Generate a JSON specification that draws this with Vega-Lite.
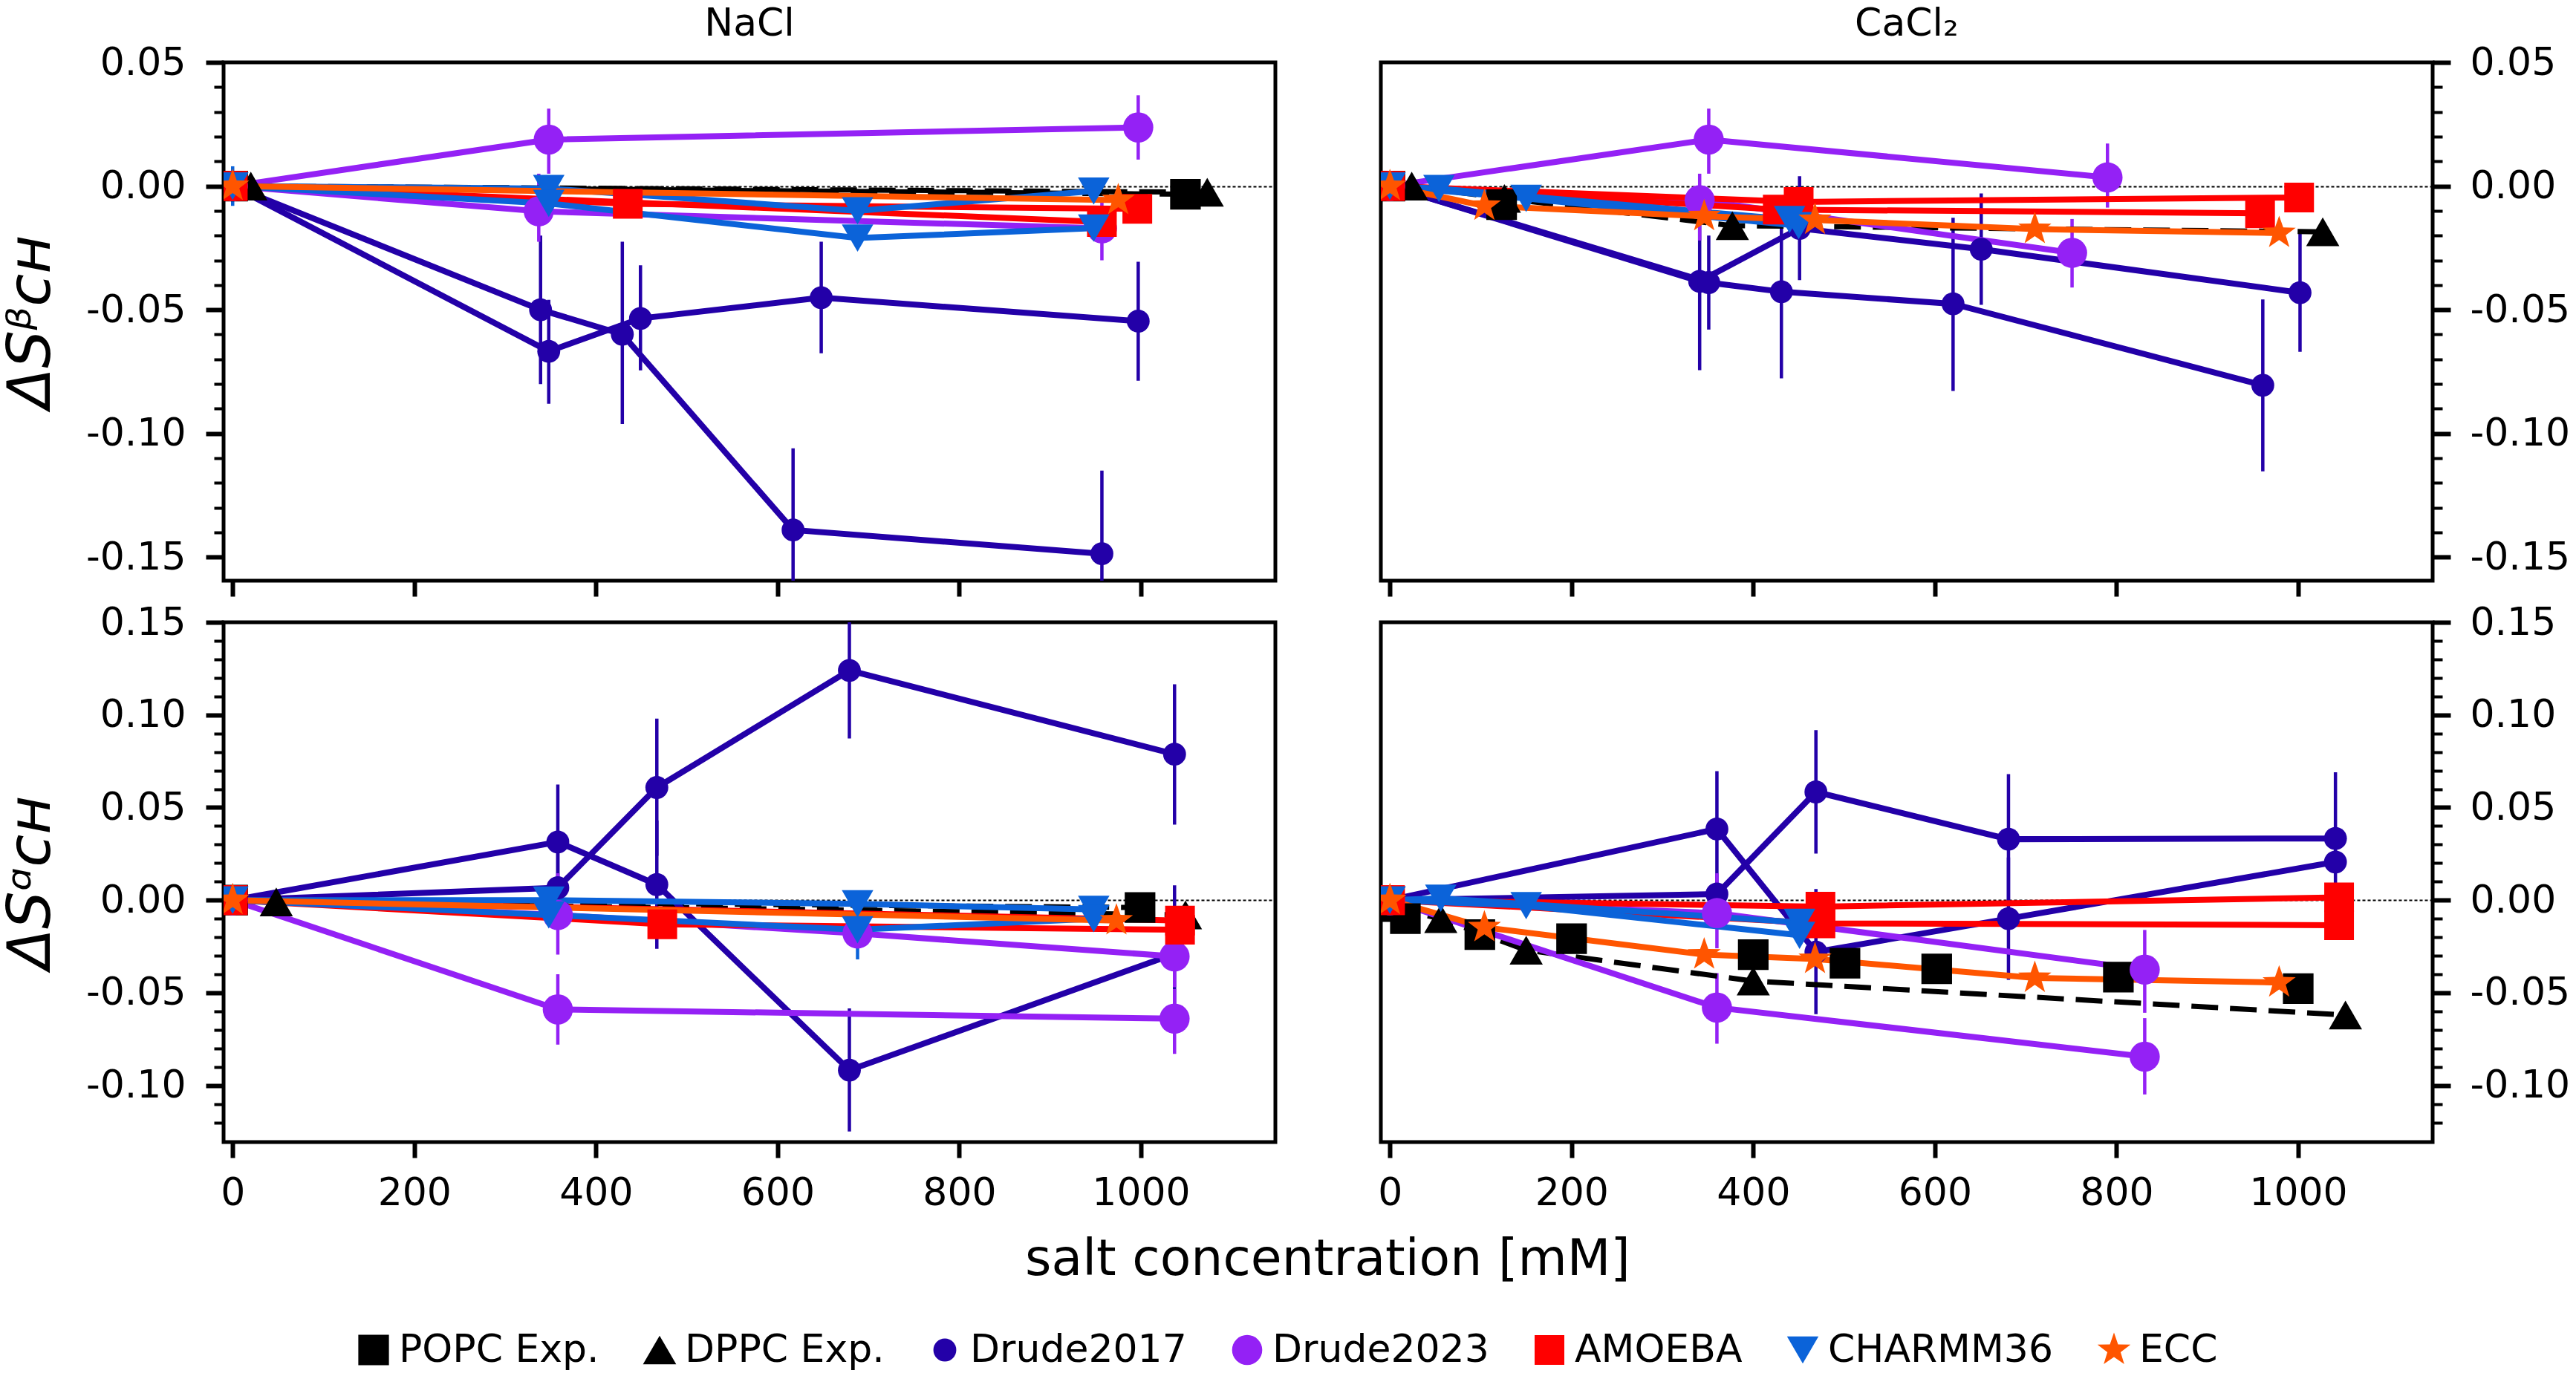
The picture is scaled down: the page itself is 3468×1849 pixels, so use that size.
{
  "$schema": "https://vega.github.io/schema/vega-lite/v6.json",
  "background": "white",
  "padding": {"left": -1, "top": 3, "right": 0, "bottom": 12},
  "bounds": "flush",
  "columns": 2,
  "spacing": {"row": 56, "column": 142},
  "resolve": {"scale": {"color": "shared", "shape": "shared", "size": "shared", "stroke": "shared"}, "legend": {"color": "shared", "shape": "shared", "size": "shared"}},
  "config": {
    "font": "DejaVu Sans",
    "view": {"stroke": "black", "strokeWidth": 5},
    "axis": {"domain": false, "labelFont": "DejaVu Sans", "labelFontSize": 52, "labelColor": "black", "tickColor": "black", "titleFont": "DejaVu Sans", "titleColor": "black", "titleFontWeight": "normal", "labelOverlap": false, "labelFlush": false, "grid": false},
    "title": {"font": "DejaVu Sans", "fontSize": 52, "fontWeight": "normal", "color": "black", "anchor": "middle", "baseline": "alphabetic", "offset": -1},
    "legend": {"layout": {"bottom": {"anchor": "middle"}}}
  },
  "datasets": {
    "d": [
      {"s":"NaCl","p":"b","m":"POPC Exp.","r":"e","x":0,"y":0},
      {"s":"NaCl","p":"b","m":"POPC Exp.","r":"e","x":1049,"y":-0.0033},
      {"s":"NaCl","p":"b","m":"DPPC Exp.","r":"e","x":20,"y":0},
      {"s":"NaCl","p":"b","m":"DPPC Exp.","r":"e","x":1073,"y":-0.0025},
      {"s":"NaCl","p":"b","m":"Drude2017","r":"a","x":0,"y":0},
      {"s":"NaCl","p":"b","m":"Drude2017","r":"a","x":339,"y":-0.050,"lo":-0.080,"hi":-0.020},
      {"s":"NaCl","p":"b","m":"Drude2017","r":"a","x":429,"y":-0.0599,"lo":-0.0962,"hi":-0.0225},
      {"s":"NaCl","p":"b","m":"Drude2017","r":"a","x":617,"y":-0.139,"lo":-0.172,"hi":-0.106},
      {"s":"NaCl","p":"b","m":"Drude2017","r":"a","x":957,"y":-0.1486,"lo":-0.182,"hi":-0.115},
      {"s":"NaCl","p":"b","m":"Drude2017","r":"b","x":0,"y":0},
      {"s":"NaCl","p":"b","m":"Drude2017","r":"b","x":348,"y":-0.0668,"lo":-0.088,"hi":-0.046},
      {"s":"NaCl","p":"b","m":"Drude2017","r":"b","x":449,"y":-0.0535,"lo":-0.0745,"hi":-0.032},
      {"s":"NaCl","p":"b","m":"Drude2017","r":"b","x":648,"y":-0.0451,"lo":-0.0676,"hi":-0.0225},
      {"s":"NaCl","p":"b","m":"Drude2017","r":"b","x":997,"y":-0.0546,"lo":-0.0787,"hi":-0.0306},
      {"s":"NaCl","p":"b","m":"Drude2023","r":"a","x":0,"y":0},
      {"s":"NaCl","p":"b","m":"Drude2023","r":"a","x":348,"y":0.0188,"lo":0.005,"hi":0.0313},
      {"s":"NaCl","p":"b","m":"Drude2023","r":"a","x":997,"y":0.0237,"lo":0.0107,"hi":0.0367},
      {"s":"NaCl","p":"b","m":"Drude2023","r":"b","x":0,"y":0},
      {"s":"NaCl","p":"b","m":"Drude2023","r":"b","x":337,"y":-0.0102,"lo":-0.0225,"hi":0.005},
      {"s":"NaCl","p":"b","m":"Drude2023","r":"b","x":957,"y":-0.0171,"lo":-0.030,"hi":-0.0045},
      {"s":"NaCl","p":"b","m":"AMOEBA","r":"a","x":0,"y":0},
      {"s":"NaCl","p":"b","m":"AMOEBA","r":"a","x":435,"y":-0.0072},
      {"s":"NaCl","p":"b","m":"AMOEBA","r":"a","x":996,"y":-0.0092},
      {"s":"NaCl","p":"b","m":"AMOEBA","r":"b","x":0,"y":0},
      {"s":"NaCl","p":"b","m":"AMOEBA","r":"b","x":957,"y":-0.0145},
      {"s":"NaCl","p":"b","m":"CHARMM36","r":"a","x":0,"y":0,"lo":-0.008,"hi":0.008},
      {"s":"NaCl","p":"b","m":"CHARMM36","r":"a","x":348,"y":-0.001},
      {"s":"NaCl","p":"b","m":"CHARMM36","r":"a","x":688,"y":-0.010},
      {"s":"NaCl","p":"b","m":"CHARMM36","r":"a","x":948,"y":-0.002},
      {"s":"NaCl","p":"b","m":"CHARMM36","r":"b","x":0,"y":0},
      {"s":"NaCl","p":"b","m":"CHARMM36","r":"b","x":348,"y":-0.007},
      {"s":"NaCl","p":"b","m":"CHARMM36","r":"b","x":688,"y":-0.021},
      {"s":"NaCl","p":"b","m":"CHARMM36","r":"b","x":948,"y":-0.017},
      {"s":"NaCl","p":"b","m":"ECC","r":"a","x":0,"y":0},
      {"s":"NaCl","p":"b","m":"ECC","r":"a","x":975,"y":-0.0057},

      {"s":"CaCl2","p":"b","m":"POPC Exp.","r":"e","x":0,"y":0},
      {"s":"CaCl2","p":"b","m":"POPC Exp.","r":"e","x":123,"y":-0.0075},
      {"s":"CaCl2","p":"b","m":"DPPC Exp.","r":"e","x":24,"y":0},
      {"s":"CaCl2","p":"b","m":"DPPC Exp.","r":"e","x":126,"y":-0.005},
      {"s":"CaCl2","p":"b","m":"DPPC Exp.","r":"e","x":377,"y":-0.016},
      {"s":"CaCl2","p":"b","m":"DPPC Exp.","r":"e","x":1027,"y":-0.0185},
      {"s":"CaCl2","p":"b","m":"Drude2017","r":"a","x":0,"y":0},
      {"s":"CaCl2","p":"b","m":"Drude2017","r":"a","x":341,"y":-0.0385,"lo":-0.0744,"hi":-0.003},
      {"s":"CaCl2","p":"b","m":"Drude2017","r":"a","x":451,"y":-0.0171,"lo":-0.038,"hi":0.004},
      {"s":"CaCl2","p":"b","m":"Drude2017","r":"a","x":651,"y":-0.0255,"lo":-0.048,"hi":-0.003},
      {"s":"CaCl2","p":"b","m":"Drude2017","r":"a","x":1002,"y":-0.0431,"lo":-0.067,"hi":-0.0193},
      {"s":"CaCl2","p":"b","m":"Drude2017","r":"b","x":0,"y":0},
      {"s":"CaCl2","p":"b","m":"Drude2017","r":"b","x":351,"y":-0.039,"lo":-0.058,"hi":-0.020},
      {"s":"CaCl2","p":"b","m":"Drude2017","r":"b","x":431,"y":-0.0427,"lo":-0.0777,"hi":-0.0077},
      {"s":"CaCl2","p":"b","m":"Drude2017","r":"b","x":620,"y":-0.0476,"lo":-0.0828,"hi":-0.0128},
      {"s":"CaCl2","p":"b","m":"Drude2017","r":"b","x":961,"y":-0.0805,"lo":-0.1153,"hi":-0.0458},
      {"s":"CaCl2","p":"b","m":"Drude2023","r":"a","x":0,"y":0},
      {"s":"CaCl2","p":"b","m":"Drude2023","r":"a","x":351,"y":0.0188,"lo":0.005,"hi":0.0313},
      {"s":"CaCl2","p":"b","m":"Drude2023","r":"a","x":790,"y":0.0035,"lo":-0.0087,"hi":0.0172},
      {"s":"CaCl2","p":"b","m":"Drude2023","r":"b","x":0,"y":0},
      {"s":"CaCl2","p":"b","m":"Drude2023","r":"b","x":341,"y":-0.0057,"lo":-0.022,"hi":0.005},
      {"s":"CaCl2","p":"b","m":"Drude2023","r":"b","x":751,"y":-0.027,"lo":-0.041,"hi":-0.0133},
      {"s":"CaCl2","p":"b","m":"AMOEBA","r":"a","x":0,"y":0},
      {"s":"CaCl2","p":"b","m":"AMOEBA","r":"a","x":450,"y":-0.0064},
      {"s":"CaCl2","p":"b","m":"AMOEBA","r":"a","x":1001,"y":-0.0046},
      {"s":"CaCl2","p":"b","m":"AMOEBA","r":"b","x":0,"y":0},
      {"s":"CaCl2","p":"b","m":"AMOEBA","r":"b","x":427,"y":-0.0095},
      {"s":"CaCl2","p":"b","m":"AMOEBA","r":"b","x":958,"y":-0.011},
      {"s":"CaCl2","p":"b","m":"CHARMM36","r":"a","x":0,"y":0},
      {"s":"CaCl2","p":"b","m":"CHARMM36","r":"a","x":54,"y":-0.001},
      {"s":"CaCl2","p":"b","m":"CHARMM36","r":"a","x":440,"y":-0.0135},
      {"s":"CaCl2","p":"b","m":"CHARMM36","r":"b","x":0,"y":0},
      {"s":"CaCl2","p":"b","m":"CHARMM36","r":"b","x":150,"y":-0.005},
      {"s":"CaCl2","p":"b","m":"CHARMM36","r":"b","x":450,"y":-0.016},
      {"s":"CaCl2","p":"b","m":"ECC","r":"a","x":0,"y":0},
      {"s":"CaCl2","p":"b","m":"ECC","r":"a","x":104,"y":-0.008},
      {"s":"CaCl2","p":"b","m":"ECC","r":"a","x":346,"y":-0.0122},
      {"s":"CaCl2","p":"b","m":"ECC","r":"a","x":468,"y":-0.0137},
      {"s":"CaCl2","p":"b","m":"ECC","r":"a","x":710,"y":-0.0174},
      {"s":"CaCl2","p":"b","m":"ECC","r":"a","x":979,"y":-0.019},

      {"s":"NaCl","p":"a","m":"POPC Exp.","r":"e","x":0,"y":0},
      {"s":"NaCl","p":"a","m":"POPC Exp.","r":"e","x":999,"y":-0.004},
      {"s":"NaCl","p":"a","m":"DPPC Exp.","r":"e","x":48,"y":-0.001},
      {"s":"NaCl","p":"a","m":"DPPC Exp.","r":"e","x":1049,"y":-0.008},
      {"s":"NaCl","p":"a","m":"Drude2017","r":"a","x":0,"y":0},
      {"s":"NaCl","p":"a","m":"Drude2017","r":"a","x":358,"y":0.0314,"lo":0.0006,"hi":0.0624},
      {"s":"NaCl","p":"a","m":"Drude2017","r":"a","x":467,"y":0.0084,"lo":-0.0263,"hi":0.043},
      {"s":"NaCl","p":"a","m":"Drude2017","r":"a","x":679,"y":-0.0918,"lo":-0.1249,"hi":-0.0584},
      {"s":"NaCl","p":"a","m":"Drude2017","r":"a","x":1037,"y":-0.029,"lo":-0.066,"hi":0.008},
      {"s":"NaCl","p":"a","m":"Drude2017","r":"b","x":0,"y":0},
      {"s":"NaCl","p":"a","m":"Drude2017","r":"b","x":358,"y":0.0067,"lo":-0.013,"hi":0.027},
      {"s":"NaCl","p":"a","m":"Drude2017","r":"b","x":467,"y":0.0608,"lo":0.0239,"hi":0.098},
      {"s":"NaCl","p":"a","m":"Drude2017","r":"b","x":679,"y":0.124,"lo":0.0873,"hi":0.16},
      {"s":"NaCl","p":"a","m":"Drude2017","r":"b","x":1037,"y":0.0788,"lo":0.0408,"hi":0.1165},
      {"s":"NaCl","p":"a","m":"Drude2023","r":"a","x":0,"y":0},
      {"s":"NaCl","p":"a","m":"Drude2023","r":"a","x":358,"y":-0.059,"lo":-0.078,"hi":-0.040},
      {"s":"NaCl","p":"a","m":"Drude2023","r":"a","x":1037,"y":-0.064,"lo":-0.083,"hi":-0.048},
      {"s":"NaCl","p":"a","m":"Drude2023","r":"b","x":0,"y":0},
      {"s":"NaCl","p":"a","m":"Drude2023","r":"b","x":358,"y":-0.008,"lo":-0.0294,"hi":0.0145},
      {"s":"NaCl","p":"a","m":"Drude2023","r":"b","x":688,"y":-0.018},
      {"s":"NaCl","p":"a","m":"Drude2023","r":"b","x":1037,"y":-0.0304,"lo":-0.047,"hi":-0.014},
      {"s":"NaCl","p":"a","m":"AMOEBA","r":"a","x":0,"y":0},
      {"s":"NaCl","p":"a","m":"AMOEBA","r":"a","x":473,"y":-0.013},
      {"s":"NaCl","p":"a","m":"AMOEBA","r":"a","x":1043,"y":-0.016},
      {"s":"NaCl","p":"a","m":"AMOEBA","r":"b","x":0,"y":0},
      {"s":"NaCl","p":"a","m":"AMOEBA","r":"b","x":1043,"y":-0.011},
      {"s":"NaCl","p":"a","m":"CHARMM36","r":"a","x":0,"y":0,"lo":-0.008,"hi":0.008},
      {"s":"NaCl","p":"a","m":"CHARMM36","r":"a","x":348,"y":0.0},
      {"s":"NaCl","p":"a","m":"CHARMM36","r":"a","x":688,"y":-0.002},
      {"s":"NaCl","p":"a","m":"CHARMM36","r":"a","x":948,"y":-0.005},
      {"s":"NaCl","p":"a","m":"CHARMM36","r":"b","x":0,"y":0},
      {"s":"NaCl","p":"a","m":"CHARMM36","r":"b","x":348,"y":-0.008},
      {"s":"NaCl","p":"a","m":"CHARMM36","r":"b","x":688,"y":-0.016,"lo":-0.032,"hi":0.0},
      {"s":"NaCl","p":"a","m":"CHARMM36","r":"b","x":948,"y":-0.010},
      {"s":"NaCl","p":"a","m":"ECC","r":"a","x":0,"y":0},
      {"s":"NaCl","p":"a","m":"ECC","r":"a","x":973,"y":-0.011},

      {"s":"CaCl2","p":"a","m":"POPC Exp.","r":"e","x":17,"y":-0.010},
      {"s":"CaCl2","p":"a","m":"POPC Exp.","r":"e","x":99,"y":-0.0186},
      {"s":"CaCl2","p":"a","m":"POPC Exp.","r":"e","x":200,"y":-0.0208},
      {"s":"CaCl2","p":"a","m":"POPC Exp.","r":"e","x":400,"y":-0.0294},
      {"s":"CaCl2","p":"a","m":"POPC Exp.","r":"e","x":501,"y":-0.034},
      {"s":"CaCl2","p":"a","m":"POPC Exp.","r":"e","x":602,"y":-0.0371},
      {"s":"CaCl2","p":"a","m":"POPC Exp.","r":"e","x":802,"y":-0.0416},
      {"s":"CaCl2","p":"a","m":"POPC Exp.","r":"e","x":1000,"y":-0.0478},
      {"s":"CaCl2","p":"a","m":"DPPC Exp.","r":"e","x":0,"y":-0.004},
      {"s":"CaCl2","p":"a","m":"DPPC Exp.","r":"e","x":56,"y":-0.010},
      {"s":"CaCl2","p":"a","m":"DPPC Exp.","r":"e","x":150,"y":-0.027},
      {"s":"CaCl2","p":"a","m":"DPPC Exp.","r":"e","x":400,"y":-0.0437},
      {"s":"CaCl2","p":"a","m":"DPPC Exp.","r":"e","x":1052,"y":-0.062},
      {"s":"CaCl2","p":"a","m":"Drude2017","r":"a","x":0,"y":0},
      {"s":"CaCl2","p":"a","m":"Drude2017","r":"a","x":360,"y":0.0384,"lo":0.007,"hi":0.0696},
      {"s":"CaCl2","p":"a","m":"Drude2017","r":"a","x":469,"y":-0.028,"lo":-0.0616,"hi":0.006},
      {"s":"CaCl2","p":"a","m":"Drude2017","r":"a","x":681,"y":-0.010,"lo":-0.043,"hi":0.023},
      {"s":"CaCl2","p":"a","m":"Drude2017","r":"a","x":1041,"y":0.0206},
      {"s":"CaCl2","p":"a","m":"Drude2017","r":"b","x":0,"y":0},
      {"s":"CaCl2","p":"a","m":"Drude2017","r":"b","x":360,"y":0.0033},
      {"s":"CaCl2","p":"a","m":"Drude2017","r":"b","x":469,"y":0.0584,"lo":0.0251,"hi":0.0918},
      {"s":"CaCl2","p":"a","m":"Drude2017","r":"b","x":681,"y":0.0329,"lo":-0.002,"hi":0.068},
      {"s":"CaCl2","p":"a","m":"Drude2017","r":"b","x":1041,"y":0.0333,"lo":-0.0025,"hi":0.069},
      {"s":"CaCl2","p":"a","m":"Drude2023","r":"a","x":0,"y":0},
      {"s":"CaCl2","p":"a","m":"Drude2023","r":"a","x":360,"y":-0.058,"lo":-0.0775,"hi":-0.0394},
      {"s":"CaCl2","p":"a","m":"Drude2023","r":"a","x":831,"y":-0.0845,"lo":-0.1049,"hi":-0.0637},
      {"s":"CaCl2","p":"a","m":"Drude2023","r":"b","x":0,"y":0},
      {"s":"CaCl2","p":"a","m":"Drude2023","r":"b","x":360,"y":-0.007,"lo":-0.026,"hi":0.0145},
      {"s":"CaCl2","p":"a","m":"Drude2023","r":"b","x":831,"y":-0.0375,"lo":-0.0608,"hi":-0.0161},
      {"s":"CaCl2","p":"a","m":"AMOEBA","r":"a","x":0,"y":0},
      {"s":"CaCl2","p":"a","m":"AMOEBA","r":"a","x":474,"y":-0.0035},
      {"s":"CaCl2","p":"a","m":"AMOEBA","r":"a","x":1045,"y":0.0015},
      {"s":"CaCl2","p":"a","m":"AMOEBA","r":"b","x":0,"y":0},
      {"s":"CaCl2","p":"a","m":"AMOEBA","r":"b","x":474,"y":-0.0125},
      {"s":"CaCl2","p":"a","m":"AMOEBA","r":"b","x":1045,"y":-0.0135},
      {"s":"CaCl2","p":"a","m":"CHARMM36","r":"a","x":0,"y":0},
      {"s":"CaCl2","p":"a","m":"CHARMM36","r":"a","x":56,"y":0.001},
      {"s":"CaCl2","p":"a","m":"CHARMM36","r":"a","x":451,"y":-0.012},
      {"s":"CaCl2","p":"a","m":"CHARMM36","r":"b","x":0,"y":0},
      {"s":"CaCl2","p":"a","m":"CHARMM36","r":"b","x":150,"y":-0.003},
      {"s":"CaCl2","p":"a","m":"CHARMM36","r":"b","x":451,"y":-0.019},
      {"s":"CaCl2","p":"a","m":"ECC","r":"a","x":0,"y":0},
      {"s":"CaCl2","p":"a","m":"ECC","r":"a","x":104,"y":-0.0147},
      {"s":"CaCl2","p":"a","m":"ECC","r":"a","x":346,"y":-0.0294},
      {"s":"CaCl2","p":"a","m":"ECC","r":"a","x":468,"y":-0.0318},
      {"s":"CaCl2","p":"a","m":"ECC","r":"a","x":710,"y":-0.042},
      {"s":"CaCl2","p":"a","m":"ECC","r":"a","x":979,"y":-0.0445}
    ]
  },
  "concat": [
    {
      "width": 1416, "height": 698,
      "title": {"text": "NaCl"},
      "data": {"name": "d"},
      "transform": [{"filter": "datum.s == 'NaCl' && datum.p == 'b'"}],
      "encoding": {
        "x": {"field": "x", "type": "quantitative", "scale": {"domain": [-10, 1148], "nice": false, "zero": false}, "axis": {"values": [0, 200, 400, 600, 800, 1000], "labels": false, "tickSize": 21, "tickWidth": 6, "title": null}},
        "y": {"field": "y", "type": "quantitative", "scale": {"domain": [-0.1595, 0.05], "nice": false, "zero": false},
          "axis": {"title": "ΔSᵝᴄʜ", "titleFontSize": 80, "titleFontStyle": "italic", "titlePadding": 32,
            "values": [-0.15,-0.14,-0.13,-0.12,-0.11,-0.1,-0.09,-0.08,-0.07,-0.06,-0.05,-0.04,-0.03,-0.02,-0.01,0,0.01,0.02,0.03,0.04,0.05],
            "labelExpr": "abs(round(datum.value*100)%5)==0 ? replace(format(datum.value,'.2f'),'\u2212','-') : ''",
            "tickSize": {"condition": {"test": "abs(round(datum.value*100)%5)==0", "value": 24}, "value": 13},
            "tickWidth": {"condition": {"test": "abs(round(datum.value*100)%5)==0", "value": 6}, "value": 4},
            "labelPadding": 27, "grid": true, "gridColor": "black", "gridDash": [4, 3], "gridWidth": 2,
            "gridOpacity": {"condition": {"test": "abs(datum.value) < 0.000001", "value": 1}, "value": 0}}}
      },
      "layer": [
        {"transform": [{"filter": "isValid(datum.lo)"}], "mark": {"type": "rule", "strokeWidth": 4.5, "clip": true},
          "encoding": {"y": {"field": "lo", "type": "quantitative"}, "y2": {"field": "hi"},
            "stroke": {"field": "m", "type": "nominal", "legend": null, "scale": {"domain": ["Drude2017","Drude2023","AMOEBA","CHARMM36","ECC","POPC Exp.","DPPC Exp."], "range": ["#2300a8","#9421f5","#ff0000","#0b63d9","#ff5500","#000000","#000000"]}}}},
        {"transform": [{"filter": "datum.m == 'POPC Exp.' || datum.m == 'DPPC Exp.'"}], "mark": {"type": "line", "strokeWidth": 7, "strokeDash": [36, 16], "color": "black", "clip": true},
          "encoding": {"detail": {"field": "m"}}},
        {"transform": [{"filter": "datum.m != 'POPC Exp.' && datum.m != 'DPPC Exp.'"}], "mark": {"type": "line", "strokeWidth": 8, "clip": true},
          "encoding": {"detail": {"field": "r"}, "stroke": {"field": "m", "type": "nominal", "legend": null, "scale": {"domain": ["Drude2017","Drude2023","AMOEBA","CHARMM36","ECC","POPC Exp.","DPPC Exp."], "range": ["#2300a8","#9421f5","#ff0000","#0b63d9","#ff5500","#000000","#000000"]}}}},
        {"mark": {"type": "point", "filled": true, "opacity": 1, "clip": true},
          "encoding": {
            "color": {"field": "m", "type": "nominal", "scale": {"domain": ["POPC Exp.","DPPC Exp.","Drude2017","Drude2023","AMOEBA","CHARMM36","ECC"], "range": ["#000000","#000000","#2300a8","#9421f5","#ff0000","#0b63d9","#ff5500"]}, "legend": {"title": null, "orient": "bottom", "offset": 59, "direction": "horizontal", "columns": 7, "labelFontSize": 52, "labelFont": "DejaVu Sans", "labelColor": "black", "labelLimit": 1000, "columnPadding": 55, "labelOffset": 8, "symbolStrokeWidth": 0}},
            "shape": {"field": "m", "type": "nominal", "scale": {"domain": ["POPC Exp.","DPPC Exp.","Drude2017","Drude2023","AMOEBA","CHARMM36","ECC"], "range": ["square","triangle-up","circle","circle","square","triangle-down","M0,-1L0.235,-0.324L0.951,-0.309L0.38,0.124L0.588,0.809L0,0.4L-0.588,0.809L-0.38,0.124L-0.951,-0.309L-0.235,-0.324Z"]}, "legend": {"title": null, "orient": "bottom", "offset": 59, "direction": "horizontal", "columns": 7, "labelFontSize": 52, "labelFont": "DejaVu Sans", "labelColor": "black", "labelLimit": 1000, "columnPadding": 55, "labelOffset": 8, "symbolStrokeWidth": 0}},
            "size": {"field": "m", "type": "nominal", "scale": {"type": "ordinal", "domain": ["POPC Exp.","DPPC Exp.","Drude2017","Drude2023","AMOEBA","CHARMM36","ECC"], "range": [1700, 2000, 950, 1650, 1600, 1800, 2200]}, "legend": {"title": null, "orient": "bottom", "offset": 59, "direction": "horizontal", "columns": 7, "labelFontSize": 52, "labelFont": "DejaVu Sans", "labelColor": "black", "labelLimit": 1000, "columnPadding": 55, "labelOffset": 8, "symbolStrokeWidth": 0}}
          }}
      ]
    },
    {
      "width": 1416, "height": 698,
      "title": {"text": "CaCl₂"},
      "data": {"name": "d"},
      "transform": [{"filter": "datum.s == 'CaCl2' && datum.p == 'b'"}],
      "encoding": {
        "x": {"field": "x", "type": "quantitative", "scale": {"domain": [-10, 1148], "nice": false, "zero": false}, "axis": {"values": [0, 200, 400, 600, 800, 1000], "labels": false, "tickSize": 21, "tickWidth": 6, "title": null}},
        "y": {"field": "y", "type": "quantitative", "scale": {"domain": [-0.1595, 0.05], "nice": false, "zero": false},
          "axis": {"orient": "right", "title": null,
            "values": [-0.15,-0.14,-0.13,-0.12,-0.11,-0.1,-0.09,-0.08,-0.07,-0.06,-0.05,-0.04,-0.03,-0.02,-0.01,0,0.01,0.02,0.03,0.04,0.05],
            "labelExpr": "abs(round(datum.value*100)%5)==0 ? replace(format(datum.value,'.2f'),'\u2212','-') : ''",
            "tickSize": {"condition": {"test": "abs(round(datum.value*100)%5)==0", "value": 24}, "value": 13},
            "tickWidth": {"condition": {"test": "abs(round(datum.value*100)%5)==0", "value": 6}, "value": 4},
            "labelPadding": 26, "grid": true, "gridColor": "black", "gridDash": [4, 3], "gridWidth": 2,
            "gridOpacity": {"condition": {"test": "abs(datum.value) < 0.000001", "value": 1}, "value": 0}}}
      },
      "layer": [
        {"transform": [{"filter": "isValid(datum.lo)"}], "mark": {"type": "rule", "strokeWidth": 4.5, "clip": true},
          "encoding": {"y": {"field": "lo", "type": "quantitative"}, "y2": {"field": "hi"},
            "stroke": {"field": "m", "type": "nominal", "legend": null, "scale": {"domain": ["Drude2017","Drude2023","AMOEBA","CHARMM36","ECC","POPC Exp.","DPPC Exp."], "range": ["#2300a8","#9421f5","#ff0000","#0b63d9","#ff5500","#000000","#000000"]}}}},
        {"transform": [{"filter": "datum.m == 'DPPC Exp.'"}], "mark": {"type": "line", "strokeWidth": 7, "strokeDash": [36, 16], "color": "black", "clip": true},
          "encoding": {"detail": {"field": "m"}}},
        {"transform": [{"filter": "datum.m != 'POPC Exp.' && datum.m != 'DPPC Exp.'"}], "mark": {"type": "line", "strokeWidth": 8, "clip": true},
          "encoding": {"detail": {"field": "r"}, "stroke": {"field": "m", "type": "nominal", "legend": null, "scale": {"domain": ["Drude2017","Drude2023","AMOEBA","CHARMM36","ECC","POPC Exp.","DPPC Exp."], "range": ["#2300a8","#9421f5","#ff0000","#0b63d9","#ff5500","#000000","#000000"]}}}},
        {"mark": {"type": "point", "filled": true, "opacity": 1, "clip": true},
          "encoding": {
            "color": {"field": "m", "type": "nominal", "scale": {"domain": ["POPC Exp.","DPPC Exp.","Drude2017","Drude2023","AMOEBA","CHARMM36","ECC"], "range": ["#000000","#000000","#2300a8","#9421f5","#ff0000","#0b63d9","#ff5500"]}, "legend": {"title": null, "orient": "bottom", "offset": 59, "direction": "horizontal", "columns": 7, "labelFontSize": 52, "labelFont": "DejaVu Sans", "labelColor": "black", "labelLimit": 1000, "columnPadding": 55, "labelOffset": 8, "symbolStrokeWidth": 0}},
            "shape": {"field": "m", "type": "nominal", "scale": {"domain": ["POPC Exp.","DPPC Exp.","Drude2017","Drude2023","AMOEBA","CHARMM36","ECC"], "range": ["square","triangle-up","circle","circle","square","triangle-down","M0,-1L0.235,-0.324L0.951,-0.309L0.38,0.124L0.588,0.809L0,0.4L-0.588,0.809L-0.38,0.124L-0.951,-0.309L-0.235,-0.324Z"]}, "legend": {"title": null, "orient": "bottom", "offset": 59, "direction": "horizontal", "columns": 7, "labelFontSize": 52, "labelFont": "DejaVu Sans", "labelColor": "black", "labelLimit": 1000, "columnPadding": 55, "labelOffset": 8, "symbolStrokeWidth": 0}},
            "size": {"field": "m", "type": "nominal", "scale": {"type": "ordinal", "domain": ["POPC Exp.","DPPC Exp.","Drude2017","Drude2023","AMOEBA","CHARMM36","ECC"], "range": [1700, 2000, 950, 1650, 1600, 1800, 2200]}, "legend": {"title": null, "orient": "bottom", "offset": 59, "direction": "horizontal", "columns": 7, "labelFontSize": 52, "labelFont": "DejaVu Sans", "labelColor": "black", "labelLimit": 1000, "columnPadding": 55, "labelOffset": 8, "symbolStrokeWidth": 0}}
          }}
      ]
    },
    {
      "width": 1416, "height": 700,
      "data": {"name": "d"},
      "transform": [{"filter": "datum.s == 'NaCl' && datum.p == 'a'"}],
      "encoding": {
        "x": {"field": "x", "type": "quantitative", "scale": {"domain": [-10, 1148], "nice": false, "zero": false},
          "axis": {"values": [0, 200, 400, 600, 800, 1000], "format": "d", "tickSize": 21, "tickWidth": 6, "labelPadding": 22, "title": "salt concentration [mM]", "titleFontSize": 68, "titlePadding": 30, "titleX": 1486, "titleAlign": "center"}},
        "y": {"field": "y", "type": "quantitative", "scale": {"domain": [-0.1306, 0.15], "nice": false, "zero": false},
          "axis": {"title": "ΔSᵅᴄʜ", "titleFontSize": 80, "titleFontStyle": "italic", "titlePadding": 32,
            "values": [-0.12,-0.11,-0.1,-0.09,-0.08,-0.07,-0.06,-0.05,-0.04,-0.03,-0.02,-0.01,0,0.01,0.02,0.03,0.04,0.05,0.06,0.07,0.08,0.09,0.1,0.11,0.12,0.13,0.14,0.15],
            "labelExpr": "abs(round(datum.value*100)%5)==0 ? replace(format(datum.value,'.2f'),'\u2212','-') : ''",
            "tickSize": {"condition": {"test": "abs(round(datum.value*100)%5)==0", "value": 24}, "value": 13},
            "tickWidth": {"condition": {"test": "abs(round(datum.value*100)%5)==0", "value": 6}, "value": 4},
            "labelPadding": 27, "grid": true, "gridColor": "black", "gridDash": [4, 3], "gridWidth": 2,
            "gridOpacity": {"condition": {"test": "abs(datum.value) < 0.000001", "value": 1}, "value": 0}}}
      },
      "layer": [
        {"transform": [{"filter": "isValid(datum.lo)"}], "mark": {"type": "rule", "strokeWidth": 4.5, "clip": true},
          "encoding": {"y": {"field": "lo", "type": "quantitative"}, "y2": {"field": "hi"},
            "stroke": {"field": "m", "type": "nominal", "legend": null, "scale": {"domain": ["Drude2017","Drude2023","AMOEBA","CHARMM36","ECC","POPC Exp.","DPPC Exp."], "range": ["#2300a8","#9421f5","#ff0000","#0b63d9","#ff5500","#000000","#000000"]}}}},
        {"transform": [{"filter": "datum.m == 'POPC Exp.' || datum.m == 'DPPC Exp.'"}], "mark": {"type": "line", "strokeWidth": 7, "strokeDash": [36, 16], "color": "black", "clip": true},
          "encoding": {"detail": {"field": "m"}}},
        {"transform": [{"filter": "datum.m != 'POPC Exp.' && datum.m != 'DPPC Exp.'"}], "mark": {"type": "line", "strokeWidth": 8, "clip": true},
          "encoding": {"detail": {"field": "r"}, "stroke": {"field": "m", "type": "nominal", "legend": null, "scale": {"domain": ["Drude2017","Drude2023","AMOEBA","CHARMM36","ECC","POPC Exp.","DPPC Exp."], "range": ["#2300a8","#9421f5","#ff0000","#0b63d9","#ff5500","#000000","#000000"]}}}},
        {"mark": {"type": "point", "filled": true, "opacity": 1, "clip": true},
          "encoding": {
            "color": {"field": "m", "type": "nominal", "scale": {"domain": ["POPC Exp.","DPPC Exp.","Drude2017","Drude2023","AMOEBA","CHARMM36","ECC"], "range": ["#000000","#000000","#2300a8","#9421f5","#ff0000","#0b63d9","#ff5500"]}, "legend": {"title": null, "orient": "bottom", "offset": 59, "direction": "horizontal", "columns": 7, "labelFontSize": 52, "labelFont": "DejaVu Sans", "labelColor": "black", "labelLimit": 1000, "columnPadding": 55, "labelOffset": 8, "symbolStrokeWidth": 0}},
            "shape": {"field": "m", "type": "nominal", "scale": {"domain": ["POPC Exp.","DPPC Exp.","Drude2017","Drude2023","AMOEBA","CHARMM36","ECC"], "range": ["square","triangle-up","circle","circle","square","triangle-down","M0,-1L0.235,-0.324L0.951,-0.309L0.38,0.124L0.588,0.809L0,0.4L-0.588,0.809L-0.38,0.124L-0.951,-0.309L-0.235,-0.324Z"]}, "legend": {"title": null, "orient": "bottom", "offset": 59, "direction": "horizontal", "columns": 7, "labelFontSize": 52, "labelFont": "DejaVu Sans", "labelColor": "black", "labelLimit": 1000, "columnPadding": 55, "labelOffset": 8, "symbolStrokeWidth": 0}},
            "size": {"field": "m", "type": "nominal", "scale": {"type": "ordinal", "domain": ["POPC Exp.","DPPC Exp.","Drude2017","Drude2023","AMOEBA","CHARMM36","ECC"], "range": [1700, 2000, 950, 1650, 1600, 1800, 2200]}, "legend": {"title": null, "orient": "bottom", "offset": 59, "direction": "horizontal", "columns": 7, "labelFontSize": 52, "labelFont": "DejaVu Sans", "labelColor": "black", "labelLimit": 1000, "columnPadding": 55, "labelOffset": 8, "symbolStrokeWidth": 0}}
          }}
      ]
    },
    {
      "width": 1416, "height": 700,
      "data": {"name": "d"},
      "transform": [{"filter": "datum.s == 'CaCl2' && datum.p == 'a'"}],
      "encoding": {
        "x": {"field": "x", "type": "quantitative", "scale": {"domain": [-10, 1148], "nice": false, "zero": false},
          "axis": {"values": [0, 200, 400, 600, 800, 1000], "format": "d", "tickSize": 21, "tickWidth": 6, "labelPadding": 22, "title": null}},
        "y": {"field": "y", "type": "quantitative", "scale": {"domain": [-0.1306, 0.15], "nice": false, "zero": false},
          "axis": {"orient": "right", "title": null,
            "values": [-0.12,-0.11,-0.1,-0.09,-0.08,-0.07,-0.06,-0.05,-0.04,-0.03,-0.02,-0.01,0,0.01,0.02,0.03,0.04,0.05,0.06,0.07,0.08,0.09,0.1,0.11,0.12,0.13,0.14,0.15],
            "labelExpr": "abs(round(datum.value*100)%5)==0 ? replace(format(datum.value,'.2f'),'\u2212','-') : ''",
            "tickSize": {"condition": {"test": "abs(round(datum.value*100)%5)==0", "value": 24}, "value": 13},
            "tickWidth": {"condition": {"test": "abs(round(datum.value*100)%5)==0", "value": 6}, "value": 4},
            "labelPadding": 26, "grid": true, "gridColor": "black", "gridDash": [4, 3], "gridWidth": 2,
            "gridOpacity": {"condition": {"test": "abs(datum.value) < 0.000001", "value": 1}, "value": 0}}}
      },
      "layer": [
        {"transform": [{"filter": "isValid(datum.lo)"}], "mark": {"type": "rule", "strokeWidth": 4.5, "clip": true},
          "encoding": {"y": {"field": "lo", "type": "quantitative"}, "y2": {"field": "hi"},
            "stroke": {"field": "m", "type": "nominal", "legend": null, "scale": {"domain": ["Drude2017","Drude2023","AMOEBA","CHARMM36","ECC","POPC Exp.","DPPC Exp."], "range": ["#2300a8","#9421f5","#ff0000","#0b63d9","#ff5500","#000000","#000000"]}}}},
        {"transform": [{"filter": "datum.m == 'DPPC Exp.'"}], "mark": {"type": "line", "strokeWidth": 7, "strokeDash": [36, 16], "color": "black", "clip": true},
          "encoding": {"detail": {"field": "m"}}},
        {"transform": [{"filter": "datum.m != 'POPC Exp.' && datum.m != 'DPPC Exp.'"}], "mark": {"type": "line", "strokeWidth": 8, "clip": true},
          "encoding": {"detail": {"field": "r"}, "stroke": {"field": "m", "type": "nominal", "legend": null, "scale": {"domain": ["Drude2017","Drude2023","AMOEBA","CHARMM36","ECC","POPC Exp.","DPPC Exp."], "range": ["#2300a8","#9421f5","#ff0000","#0b63d9","#ff5500","#000000","#000000"]}}}},
        {"mark": {"type": "point", "filled": true, "opacity": 1, "clip": true},
          "encoding": {
            "color": {"field": "m", "type": "nominal", "scale": {"domain": ["POPC Exp.","DPPC Exp.","Drude2017","Drude2023","AMOEBA","CHARMM36","ECC"], "range": ["#000000","#000000","#2300a8","#9421f5","#ff0000","#0b63d9","#ff5500"]}, "legend": {"title": null, "orient": "bottom", "offset": 59, "direction": "horizontal", "columns": 7, "labelFontSize": 52, "labelFont": "DejaVu Sans", "labelColor": "black", "labelLimit": 1000, "columnPadding": 55, "labelOffset": 8, "symbolStrokeWidth": 0}},
            "shape": {"field": "m", "type": "nominal", "scale": {"domain": ["POPC Exp.","DPPC Exp.","Drude2017","Drude2023","AMOEBA","CHARMM36","ECC"], "range": ["square","triangle-up","circle","circle","square","triangle-down","M0,-1L0.235,-0.324L0.951,-0.309L0.38,0.124L0.588,0.809L0,0.4L-0.588,0.809L-0.38,0.124L-0.951,-0.309L-0.235,-0.324Z"]}, "legend": {"title": null, "orient": "bottom", "offset": 59, "direction": "horizontal", "columns": 7, "labelFontSize": 52, "labelFont": "DejaVu Sans", "labelColor": "black", "labelLimit": 1000, "columnPadding": 55, "labelOffset": 8, "symbolStrokeWidth": 0}},
            "size": {"field": "m", "type": "nominal", "scale": {"type": "ordinal", "domain": ["POPC Exp.","DPPC Exp.","Drude2017","Drude2023","AMOEBA","CHARMM36","ECC"], "range": [1700, 2000, 950, 1650, 1600, 1800, 2200]}, "legend": {"title": null, "orient": "bottom", "offset": 59, "direction": "horizontal", "columns": 7, "labelFontSize": 52, "labelFont": "DejaVu Sans", "labelColor": "black", "labelLimit": 1000, "columnPadding": 55, "labelOffset": 8, "symbolStrokeWidth": 0}}
          }}
      ]
    }
  ]
}
